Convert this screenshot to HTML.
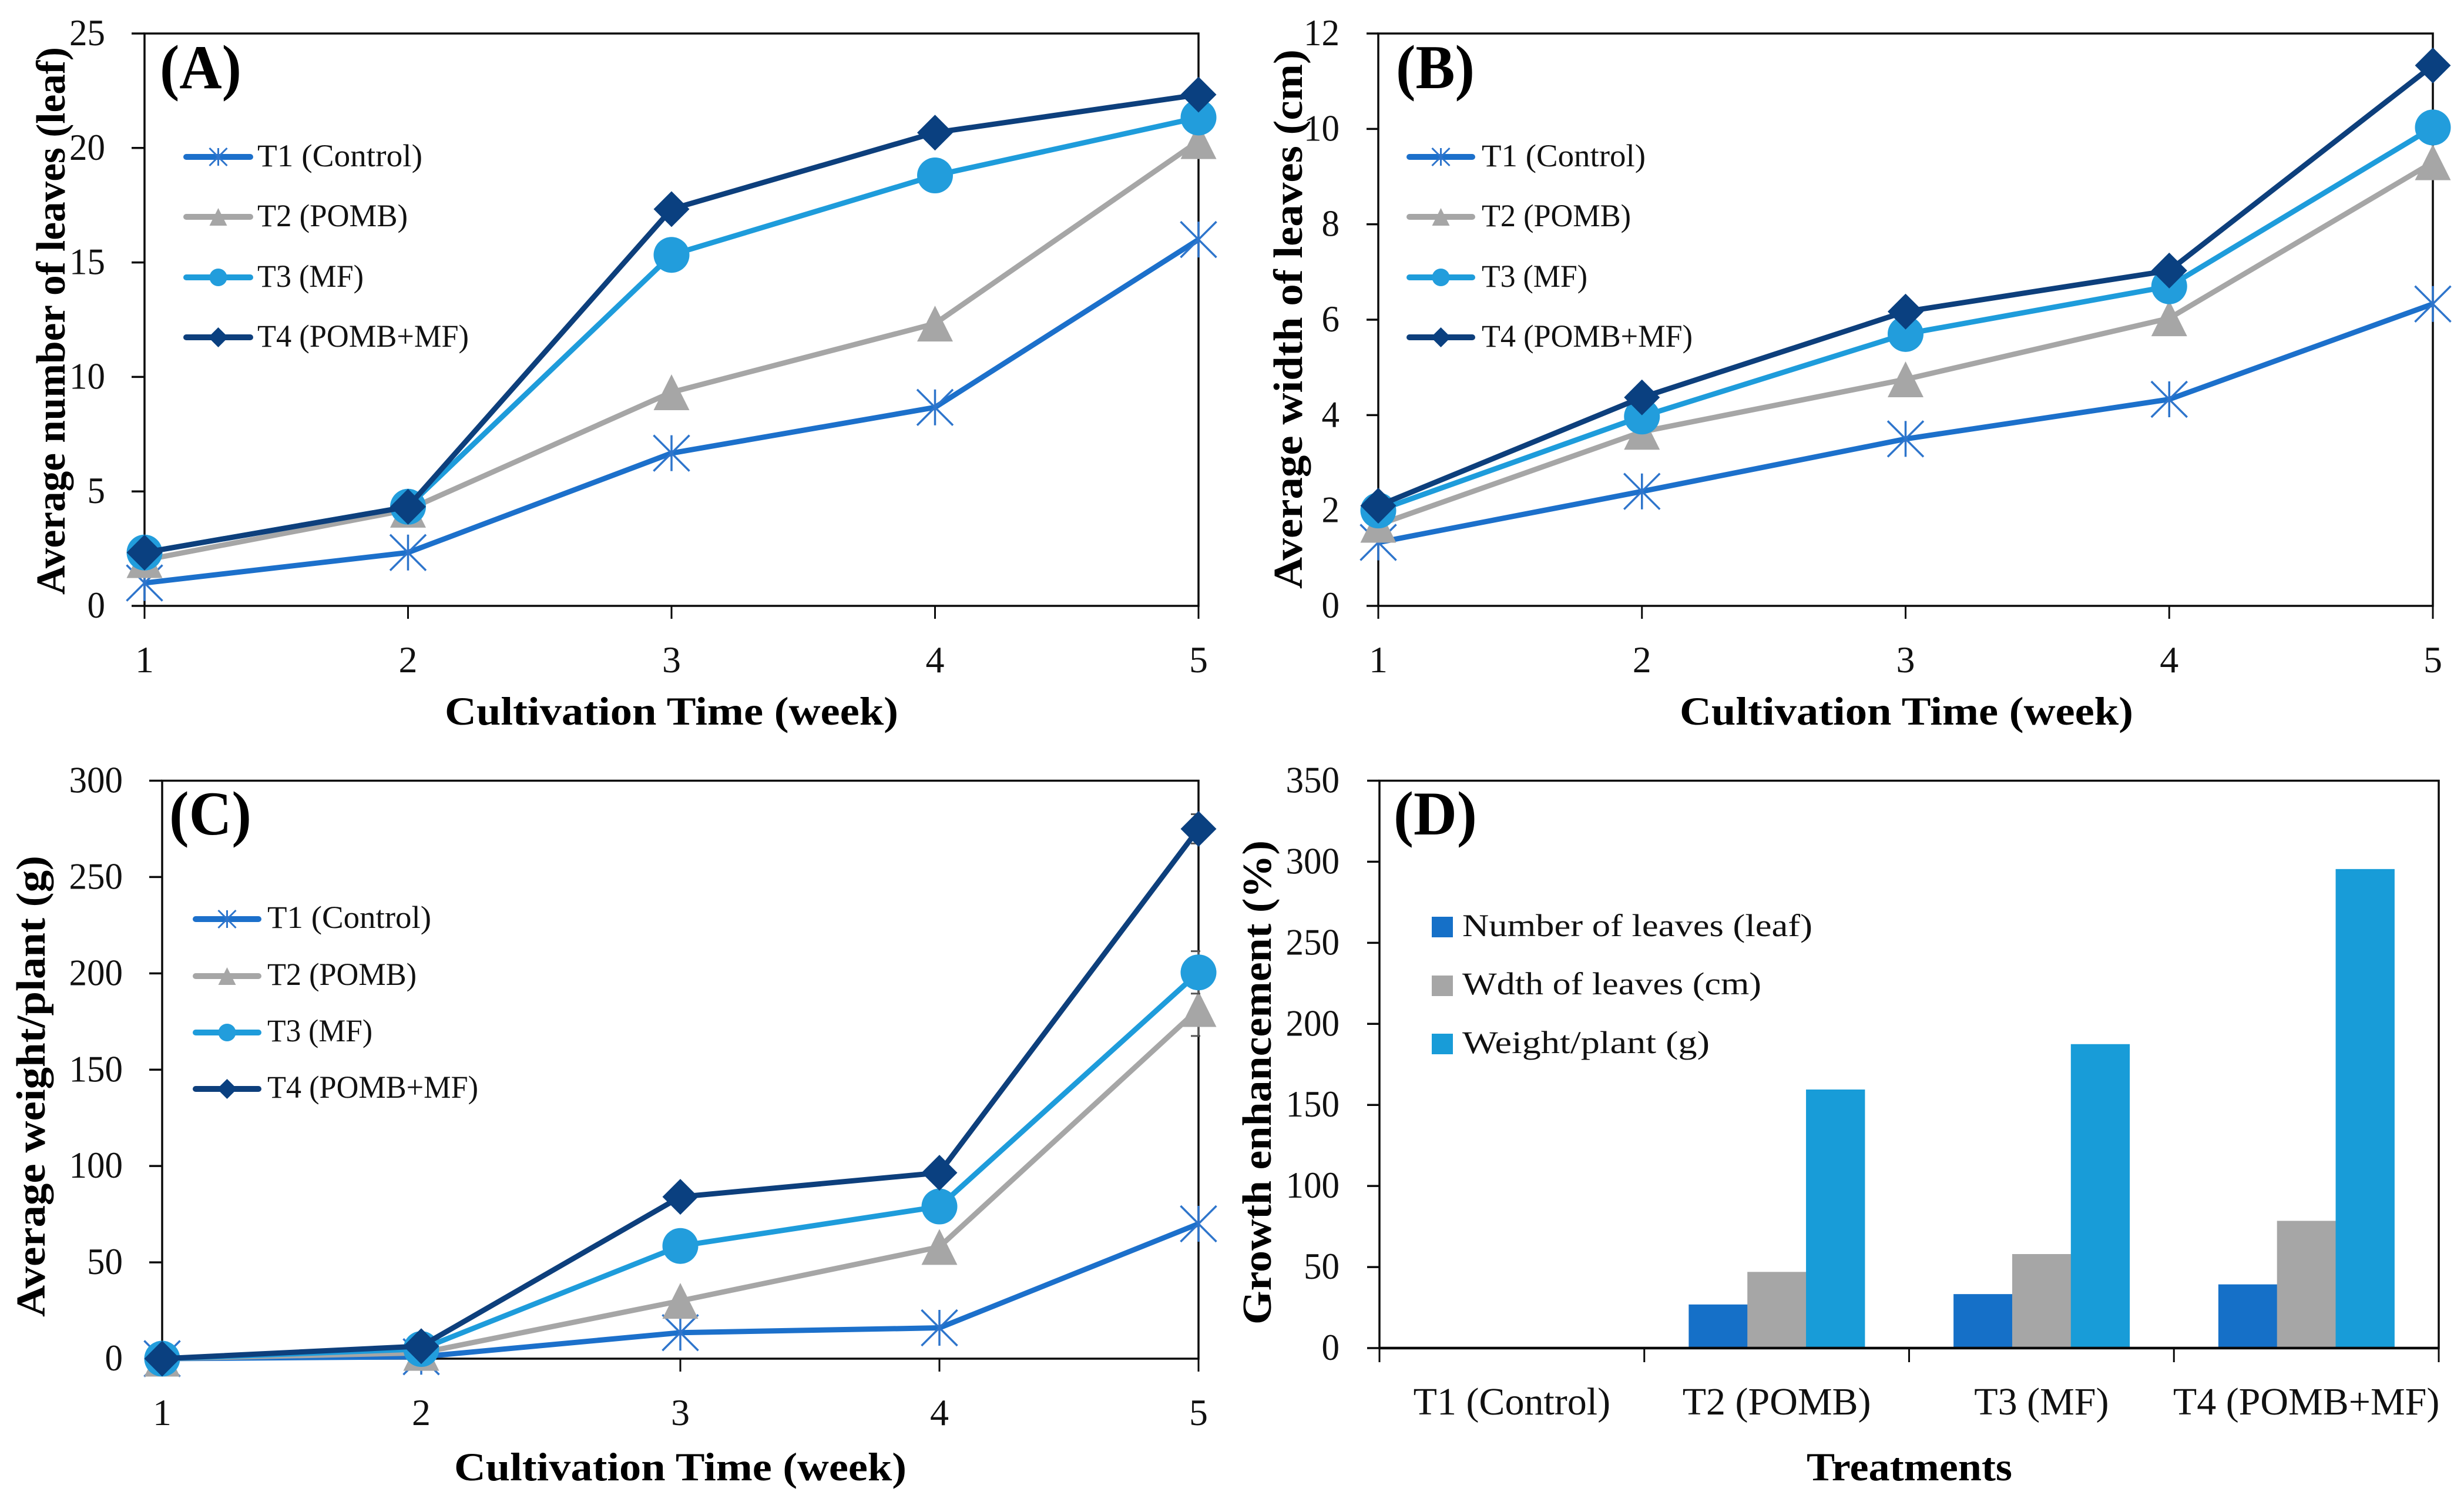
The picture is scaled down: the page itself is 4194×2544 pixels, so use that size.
<!DOCTYPE html>
<html lang="en">
<head>
<meta charset="utf-8">
<title>Growth charts</title>
<style>
html,body{margin:0;padding:0;background:#fff;}
svg{display:block;}
text{font-family:"Liberation Serif",serif;fill:#000;}
.title{font-weight:bold;font-size:68px;}
.ytitle{font-weight:bold;font-size:70px;}
.panel{font-weight:bold;font-size:106px;}
.legend{font-size:54px;fill:#111;}
.tick{font-size:64px;fill:#111;}
.cat{font-size:66px;fill:#111;}
</style>
</head>
<body>
<svg id="figure" width="4194" height="2544" viewBox="0 0 4194 2544" xmlns="http://www.w3.org/2000/svg">
<rect x="0" y="0" width="4194" height="2544" fill="#ffffff"/>

<g id="panel-a">
<g id="plot-a"></g>
<text class="panel" x="272" y="150" textLength="139" lengthAdjust="spacingAndGlyphs">(A)</text>
<text class="ytitle" transform="translate(110,1012) rotate(-90)" textLength="932" lengthAdjust="spacingAndGlyphs">Average number of leaves (leaf)</text>
<text class="title" x="757" y="1233" textLength="772" lengthAdjust="spacingAndGlyphs">Cultivation Time (week)</text>
<text class="legend" x="438" y="283" textLength="281" lengthAdjust="spacingAndGlyphs">T1 (Control)</text>
<text class="legend" x="438" y="385" textLength="256" lengthAdjust="spacingAndGlyphs">T2 (POMB)</text>
<text class="legend" x="438" y="488" textLength="181" lengthAdjust="spacingAndGlyphs">T3 (MF)</text>
<text class="legend" x="438" y="590" textLength="360" lengthAdjust="spacingAndGlyphs">T4 (POMB+MF)</text>
</g>

<g id="panel-b">
<g id="plot-b"></g>
<text class="panel" x="2376" y="150" textLength="134" lengthAdjust="spacingAndGlyphs">(B)</text>
<text class="ytitle" transform="translate(2216,1002) rotate(-90)" textLength="918" lengthAdjust="spacingAndGlyphs">Average width of leaves (cm)</text>
<text class="title" x="2859" y="1233" textLength="772" lengthAdjust="spacingAndGlyphs">Cultivation Time (week)</text>
<text class="legend" x="2522" y="283" textLength="279" lengthAdjust="spacingAndGlyphs">T1 (Control)</text>
<text class="legend" x="2522" y="385" textLength="254" lengthAdjust="spacingAndGlyphs">T2 (POMB)</text>
<text class="legend" x="2522" y="488" textLength="180" lengthAdjust="spacingAndGlyphs">T3 (MF)</text>
<text class="legend" x="2522" y="590" textLength="359" lengthAdjust="spacingAndGlyphs">T4 (POMB+MF)</text>
</g>

<g id="panel-c">
<g id="plot-c"></g>
<text class="panel" x="288" y="1420" textLength="140" lengthAdjust="spacingAndGlyphs">(C)</text>
<text class="ytitle" transform="translate(76,2241) rotate(-90)" textLength="785" lengthAdjust="spacingAndGlyphs">Average weight/plant (g)</text>
<text class="title" x="773" y="2519" textLength="770" lengthAdjust="spacingAndGlyphs">Cultivation Time (week)</text>
<text class="legend" x="455" y="1579" textLength="279" lengthAdjust="spacingAndGlyphs">T1 (Control)</text>
<text class="legend" x="455" y="1676" textLength="254" lengthAdjust="spacingAndGlyphs">T2 (POMB)</text>
<text class="legend" x="455" y="1772" textLength="179" lengthAdjust="spacingAndGlyphs">T3 (MF)</text>
<text class="legend" x="455" y="1868" textLength="359" lengthAdjust="spacingAndGlyphs">T4 (POMB+MF)</text>
</g>

<g id="panel-d">
<g id="plot-d"></g>
<text class="panel" x="2372" y="1420" textLength="142" lengthAdjust="spacingAndGlyphs">(D)</text>
<text class="ytitle" transform="translate(2163,2254) rotate(-90)" textLength="824" lengthAdjust="spacingAndGlyphs">Growth enhancement (%)</text>
<text class="title" x="3075" y="2519" textLength="350" lengthAdjust="spacingAndGlyphs">Treatments</text>
<text class="legend" x="2489" y="1593" textLength="596" lengthAdjust="spacingAndGlyphs">Number of leaves (leaf)</text>
<text class="legend" x="2489" y="1692" textLength="509" lengthAdjust="spacingAndGlyphs">Wdth of leaves (cm)</text>
<text class="legend" x="2489" y="1792" textLength="421" lengthAdjust="spacingAndGlyphs">Weight/plant (g)</text>
</g>
</svg>

<script>
// ---- chart data ----
const weeks = [1, 2, 3, 4, 5];
const seriesKeys = ['t1', 't2', 't3', 't4'];

const yTicksA = [0, 5, 10, 15, 20, 25];
const leavesT1 = [1, 2.33, 6.67, 8.67, 16];
const leavesT2 = [2, 4.2, 9.33, 12.33, 20.3];
const leavesT3 = [2.33, 4.33, 15.33, 18.8, 21.33];
const leavesT4 = [2.33, 4.33, 17.33, 20.67, 22.33];

const yTicksB = [0, 2, 4, 6, 8, 10, 12];
const widthT1 = [1.33, 2.4, 3.5, 4.33, 6.33];
const widthT2 = [1.7, 3.65, 4.75, 6.03, 9.3];
const widthT3 = [2, 3.97, 5.7, 6.7, 10.03];
const widthT4 = [2.1, 4.37, 6.17, 7.03, 11.33];

const yTicksC = [0, 50, 100, 150, 200, 250, 300];
const weightT1 = [0, 1, 13.5, 16, 70];
const weightT2 = [0, 3, 30, 58, 181.5];
const weightT3 = [0, 5, 58.5, 79, 200.5];
const weightT4 = [0, 6.5, 84, 96.5, 275];
const weightErrT2 = [0, 0, 0, 0, 14];
const weightErrT3 = [0, 0, 0, 0, 11];
const weightErrT4 = [0, 0, 0, 0, 7.6];

const yTicksD = [0, 50, 100, 150, 200, 250, 300, 350];
const treatments = ['T1 (Control)', 'T2 (POMB)', 'T3 (MF)', 'T4 (POMB+MF)'];
const enhanceLeaves = [0, 26.9, 33.3, 39.3];
const enhanceWidth = [0, 47, 58, 78.5];
const enhanceWeight = [0, 159.5, 187.5, 295.5];

// ---- styling ----
const NS = 'http://www.w3.org/2000/svg';
const colors = { t1: '#1c70cb', t2: '#a6a6a6', t3: '#1e9cdb', t4: '#0d3f7c' };
const starColor = '#2e75cc';
const barColors = ['#1570c8', '#a6a6a6', '#189cd8'];
const axisColor = '#0a0a0a';

function make(parent, tag, attrs) {
  const el = document.createElementNS(NS, tag);
  for (const k in attrs) el.setAttribute(k, attrs[k]);
  parent.appendChild(el);
  return el;
}

function linear(d0, d1, r0, r1) {
  return function (v) { return r0 + (v - d0) / (d1 - d0) * (r1 - r0); };
}

function drawMarker(parent, key, cx, cy, r, name) {
  let el;
  if (key === 't1') {
    const d = 'M' + (cx - r) + ' ' + (cy - r) + 'L' + (cx + r) + ' ' + (cy + r) +
      'M' + (cx - r) + ' ' + (cy + r) + 'L' + (cx + r) + ' ' + (cy - r) +
      'M' + cx + ' ' + (cy - r) + 'L' + cx + ' ' + (cy + r);
    el = make(parent, 'path', { d: d, fill: 'none', stroke: starColor, 'stroke-width': r > 25 ? 3.5 : 3 });
  } else if (key === 't2') {
    const pts = cx + ',' + (cy - r) + ' ' + (cx + r) + ',' + (cy + r) + ' ' + (cx - r) + ',' + (cy + r);
    el = make(parent, 'polygon', { points: pts, fill: colors.t2 });
  } else if (key === 't3') {
    el = make(parent, 'circle', { cx: cx, cy: cy, r: r, fill: '#229ddc' });
  } else {
    const pts = cx + ',' + (cy - r) + ' ' + (cx + r) + ',' + cy + ' ' + cx + ',' + (cy + r) + ' ' + (cx - r) + ',' + cy;
    el = make(parent, 'polygon', { points: pts, fill: '#0a4080' });
  }
  
  
  return el;
}

function drawFrame(g, geo, prefix) {
  const frame = make(g, 'path', {
    d: 'M' + geo.left + ' ' + geo.top + 'H' + geo.right + 'V' + geo.bottom + 'H' + geo.left + 'Z',
    fill: 'none', stroke: axisColor, 'stroke-width': 3.5
  });
  
  
}

function drawYAxis(g, geo, ticks, yScale, prefix) {
  ticks.forEach(function (t) {
    const y = yScale(t);
    const tick = make(g, 'line', { x1: geo.left - geo.tickLen, x2: geo.left, y1: y, y2: y, stroke: axisColor, 'stroke-width': 3.5 });
    
    
    const str = String(t);
    const label = make(g, 'text', { class: 'tick', x: geo.yLabelX, y: y + 20, 'text-anchor': 'end', textLength: str.length * 30.5, lengthAdjust: 'spacingAndGlyphs' });
    label.textContent = str;
    
    
  });
}

function drawLinePanel(cfg) {
  const g = document.getElementById(cfg.id);
  const geo = cfg.geo;
  const x = linear(weeks[0], weeks[weeks.length - 1], geo.left, geo.right);
  const y = linear(0, cfg.yMax, geo.bottom, geo.top);
  drawFrame(g, geo, cfg.prefix);
  drawYAxis(g, geo, cfg.yTicks, y, cfg.prefix);
  weeks.forEach(function (w) {
    const tick = make(g, 'line', { x1: x(w), x2: x(w), y1: geo.bottom, y2: geo.bottom + 22, stroke: axisColor, 'stroke-width': 3 });
    
    
    const label = make(g, 'text', { class: 'tick', x: x(w), y: geo.xLabelY, 'text-anchor': 'middle' });
    label.textContent = String(w);
    
    
  });
  seriesKeys.forEach(function (key, i) {
    const values = cfg.series[i];
    const sg = make(g, 'g', {});
    
    
    const errs = cfg.errors ? cfg.errors[i] : null;
    if (errs) {
      errs.forEach(function (e, j) {
        if (!e) return;
        const px = x(weeks[j]);
        const bar = make(sg, 'path', {
          d: 'M' + px + ' ' + y(values[j] - e) + 'V' + y(values[j] + e) +
             'M' + (px - 13) + ' ' + y(values[j] - e) + 'H' + (px + 3) +
             'M' + (px - 13) + ' ' + y(values[j] + e) + 'H' + (px + 3),
          fill: 'none', stroke: '#555555', 'stroke-width': 3
        });
        
        
      });
    }
    const pts = values.map(function (v, j) { return x(weeks[j]) + ',' + y(v); }).join(' ');
    const line = make(sg, 'polyline', { points: pts, fill: 'none', stroke: colors[key], 'stroke-width': 9, 'stroke-linejoin': 'round' });
    
    
    values.forEach(function (v, j) {
      drawMarker(sg, key, x(weeks[j]), y(v), 30.5, cfg.prefix + '-point-' + key);
    });
    const ly = cfg.legendRows[i];
    const leg = make(g, 'line', { x1: cfg.legendX[0] + 5, x2: cfg.legendX[1] - 5, y1: ly, y2: ly, stroke: colors[key], 'stroke-width': 10, 'stroke-linecap': 'round' });
    
    
    drawMarker(g, key, (cfg.legendX[0] + cfg.legendX[1]) / 2, ly, key === 't4' ? 17 : 15, cfg.prefix + '-legend-marker-' + key);
  });
}

drawLinePanel({
  id: 'plot-a', prefix: 'panel-a', yMax: 25, yTicks: yTicksA,
  series: [leavesT1, leavesT2, leavesT3, leavesT4],
  geo: { left: 246, right: 2040, top: 57, bottom: 1031, tickLen: 22, yLabelX: 179, xLabelY: 1144 },
  legendX: [312, 431], legendRows: [267, 369, 472, 574]
});
drawLinePanel({
  id: 'plot-b', prefix: 'panel-b', yMax: 12, yTicks: yTicksB,
  series: [widthT1, widthT2, widthT3, widthT4],
  geo: { left: 2346, right: 4141, top: 57, bottom: 1031, tickLen: 20, yLabelX: 2280, xLabelY: 1144 },
  legendX: [2394, 2511], legendRows: [267, 369, 472, 574]
});
drawLinePanel({
  id: 'plot-c', prefix: 'panel-c', yMax: 300, yTicks: yTicksC,
  series: [weightT1, weightT2, weightT3, weightT4],
  errors: [null, weightErrT2, weightErrT3, weightErrT4],
  geo: { left: 276, right: 2040, top: 1328.5, bottom: 2312, tickLen: 22, yLabelX: 209, xLabelY: 2425 },
  legendX: [328, 445], legendRows: [1564, 1661, 1757, 1853]
});

(function drawBarPanel() {
  const g = document.getElementById('plot-d');
  const geo = { left: 2348, right: 4151, top: 1328.5, bottom: 2294, tickLen: 21, yLabelX: 2280 };
  const y = linear(0, 350, geo.bottom, geo.top);
  const groupW = (geo.right - geo.left) / treatments.length;
  const barW = groupW * 0.2215;
  const seriesList = [enhanceLeaves, enhanceWidth, enhanceWeight];
  const barNames = ['leaves', 'width', 'weight'];
  seriesList.forEach(function (values, s) {
    values.forEach(function (v, i) {
      const bx = geo.left + groupW * i + groupW / 2 - barW * 1.5 + barW * s;
      const bar = make(g, 'rect', { x: bx, y: y(v), width: barW + 0.5, height: geo.bottom - y(v), fill: barColors[s] });
      
      
    });
  });
  drawFrame(g, geo, 'panel-d');
  const baseline = make(g, 'line', { x1: geo.left, x2: geo.right, y1: geo.bottom, y2: geo.bottom, stroke: axisColor, 'stroke-width': 4.5 });
  
  
  drawYAxis(g, geo, yTicksD, y, 'panel-d');
  for (let i = 0; i <= treatments.length; i++) {
    const tx = geo.left + groupW * i;
    const tick = make(g, 'line', { x1: tx, x2: tx, y1: geo.bottom, y2: geo.bottom + 24, stroke: axisColor, 'stroke-width': 3 });
    
    
  }
  treatments.forEach(function (name, i) {
    const label = make(g, 'text', { class: 'cat', x: geo.left + groupW * (i + 0.5), y: 2407, 'text-anchor': 'middle' });
    label.textContent = name;
    
    
  });
  const swatchY = [1560, 1660, 1759];
  barColors.forEach(function (c, i) {
    const sw = make(g, 'rect', { x: 2437, y: swatchY[i], width: 36, height: 35, fill: c });
    
    
  });
})();
</script>
</body>
</html>
